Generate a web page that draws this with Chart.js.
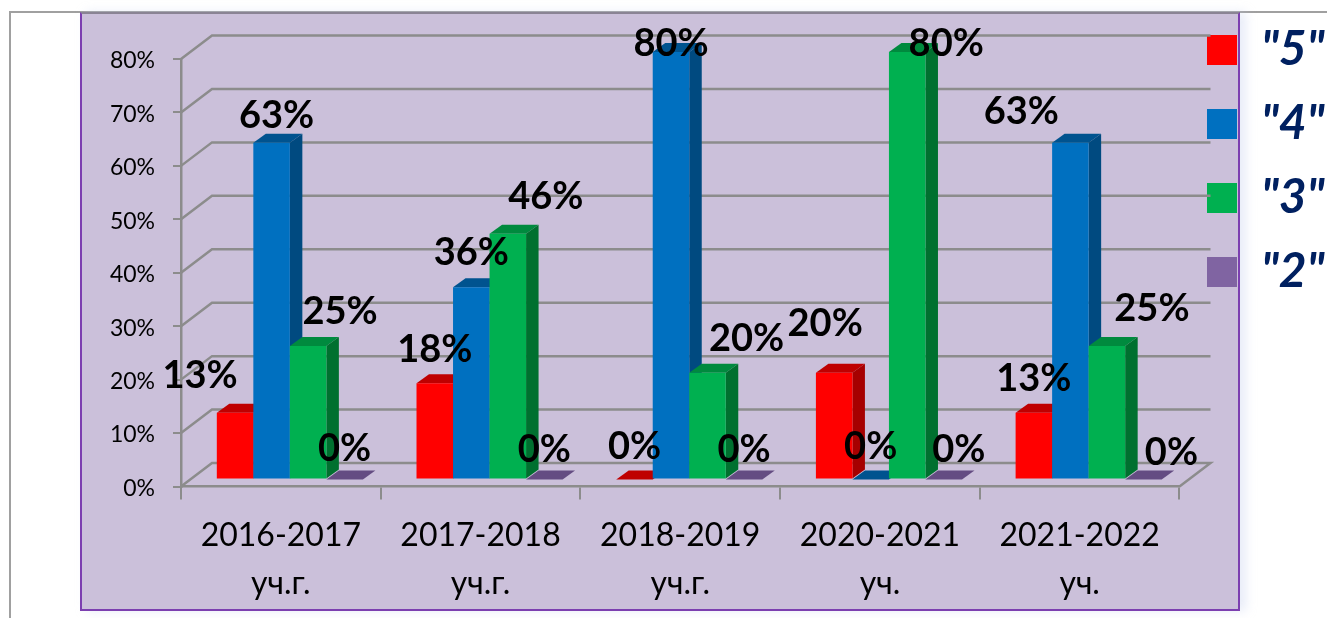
<!DOCTYPE html>
<html>
<head>
<meta charset="utf-8">
<title>Успеваемость</title>
<script src="https://cdn.jsdelivr.net/npm/chart.js@4/dist/chart.umd.min.js"></script>
<style>
    html, body { margin: 0; padding: 0; background: #fff; overflow: hidden; }
    .frame { position: absolute; left: 9px; top: 11px; width: 1318px; height: 607px; border-top: 2px solid #a0a0a0; border-left: 2px solid #a0a0a0; box-sizing: border-box; }
    .panel { position: absolute; left: 80px; top: 12px; width: 1160px; height: 599px; box-sizing: border-box; background: #cbc0da; border: 2px solid #7c3fb0; border-top: 2px solid #8a8494; box-shadow: 6px 0 10px rgba(190, 200, 235, 0.35); }
    canvas { position: absolute; left: 0; top: 0; }
</style>
</head>
<body>
<div class="frame"></div>
<div class="panel"></div>
<canvas id="grafico" width="1327" height="618"></canvas>
<script>
const categorias = [
    ["2016-2017", "уч.г."],
    ["2017-2018", "уч.г."],
    ["2018-2019", "уч.г."],
    ["2020-2021", "уч."],
    ["2021-2022", "уч."]
];
const nomes = ['"5"', '"4"', '"3"', '"2"'];
const nota5 = [12.5, 18, 0, 20, 12.5];
const nota4 = [63, 36, 80, 0, 63];
const nota3 = [25, 46, 20, 80, 25];
const nota2 = [0, 0, 0, 0, 0];

// deslocamento manual dos rótulos (px), como no slide original
const ajusteRotulos = [
    [[-35, -39], [0, -36], [0, -35], [-9, -51], [0, -36]],
    [[5, -29], [0, -36], [0, -10], [0, -35], [-49, -33]],
    [[32, -36], [38, -39], [39, -36], [39, -10], [45, -39]],
    [[0, -33], [0, -32], [0, -32], [15, -32], [28, -29]]
];

// cores: frente, topo, lateral
const cores = [
    ["#ff0000", "#bf0000", "#a60000"],
    ["#0070c0", "#00538f", "#004a80"],
    ["#00b050", "#008a3e", "#00702f"],
    ["#8064a2", "#644c82", "#574270"]
];

const fundoX = 31, fundoY = -23.5;   // profundidade das paredes
const barraX = 9, barraY = -7;       // barras ficam no meio do piso
const ladoX = 12.5, ladoY = -9;      // profundidade da barra
const corGrade = "#8c8c8c";

function desenhaFaces(ctx, meta, c) {
    meta.data.forEach(bar => {
        const e = bar.x - bar.width / 2, d = bar.x + bar.width / 2;
        ctx.fillStyle = c[1];
        ctx.beginPath();
        ctx.moveTo(e, bar.y);
        ctx.lineTo(e + ladoX, bar.y + ladoY);
        ctx.lineTo(d + ladoX, bar.y + ladoY);
        ctx.lineTo(d, bar.y);
        ctx.closePath();
        ctx.fill();
        if (bar.base - bar.y > 0.5) {
            ctx.fillStyle = c[2];
            ctx.beginPath();
            ctx.moveTo(d, bar.y);
            ctx.lineTo(d + ladoX, bar.y + ladoY);
            ctx.lineTo(d + ladoX, bar.base + ladoY);
            ctx.lineTo(d, bar.base);
            ctx.closePath();
            ctx.fill();
        }
    });
}

const efeito3d = {
    id: "efeito3d",
    beforeDatasetsDraw(chart) {
        const { ctx, chartArea, scales } = chart;
        // paredes e piso
        ctx.save();
        ctx.strokeStyle = corGrade;
        ctx.lineWidth = 2.5;
        scales.y.ticks.forEach(t => {
            const y = scales.y.getPixelForValue(t.value);
            ctx.beginPath();
            ctx.moveTo(chartArea.left, y);
            ctx.lineTo(chartArea.left + fundoX, y + fundoY);
            ctx.lineTo(chartArea.right + fundoX, y + fundoY);
            if (t.value === 0) ctx.lineTo(chartArea.right, y);
            ctx.stroke();
        });
        ctx.restore();

        // Chart.js desenha do último para o primeiro, aqui precisa ser ao contrário
        ctx.save();
        ctx.translate(barraX, barraY);
        chart.data.datasets.forEach((ds, i) => {
            const meta = chart.getDatasetMeta(i);
            desenhaFaces(ctx, meta, cores[i]);
            meta.controller.draw();
        });
        ctx.restore();

        // rótulos
        ctx.save();
        ctx.fillStyle = "#000";
        ctx.font = "bold 38px Lato, 'Open Sans', sans-serif";
        ctx.textAlign = "center";
        ctx.textBaseline = "middle";
        chart.data.datasets.forEach((ds, i) => {
            chart.getDatasetMeta(i).data.forEach((bar, j) => {
                const a = ajusteRotulos[i][j];
                ctx.fillText(Math.round(ds.data[j]) + "%", bar.x + barraX + a[0], bar.y + barraY + a[1] + 2);
            });
        });
        ctx.restore();
        return false;
    },
    afterLayout(chart) {
        // legenda invade a área do gráfico, como no original
        const l = chart.legend;
        const w = l.right - l.left;
        l.left = 1181;
        l.right = 1181 + w;
        l.top = 0;
    }
};

const ctx = document.getElementById("grafico").getContext("2d");
const grafico = new Chart(ctx, {
    type: "bar",
    data: {
        labels: categorias,
        datasets: [nota5, nota4, nota3, nota2].map((valores, i) => ({
            label: nomes[i],
            data: valores,
            backgroundColor: cores[i][0],
            clip: false,
            categoryPercentage: 0.7315,
            barPercentage: 1
        }))
    },
    options: {
        responsive: false,
        animation: false,
        layout: { padding: { left: 0, top: 59, right: -6, bottom: 0 } },
        plugins: {
            tooltip: { enabled: false },
            legend: {
                position: "right",
                align: "start",
                labels: {
                    boxWidth: 30,
                    boxHeight: 30,
                    padding: 26,
                    color: "#002060",
                    font: { family: "Lato, 'Open Sans', sans-serif", size: 48, weight: "bold", style: "italic" }
                }
            }
        },
        scales: {
            x: {
                afterFit: s => { s.height = 131.5; },
                border: { color: corGrade, width: 2.5 },
                grid: { drawOnChartArea: false, color: corGrade, lineWidth: 2, tickLength: 13, offset: true },
                ticks: {
                    color: "#000",
                    padding: 12,
                    maxRotation: 0,
                    font: { family: "Lato, 'Open Sans', sans-serif", size: 32, lineHeight: 1.5 }
                }
            },
            y: {
                min: 0,
                max: 80,
                afterFit: s => { s.width = 181; },
                border: { color: corGrade, width: 2.5 },
                grid: { drawOnChartArea: false, color: corGrade, lineWidth: 2, tickLength: 8 },
                ticks: {
                    stepSize: 10,
                    color: "#000",
                    padding: 18,
                    labelOffset: 2,
                    callback: v => v + "%",
                    font: { family: "Lato, 'Open Sans', sans-serif", size: 23 }
                }
            }
        }
    },
    plugins: [efeito3d]
});
</script>
</body>
</html>
